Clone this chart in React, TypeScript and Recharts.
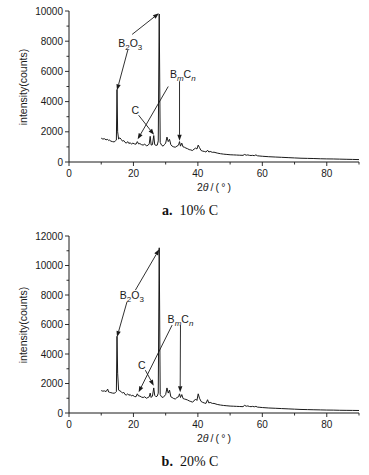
import { LineChart, Line, XAxis, YAxis, ReferenceLine, ReferenceDot } from 'recharts';

// 2θ positions (deg) sampled along the XRD pattern
const twoTheta = [
  10, 10.5, 11, 11.5, 12, 12.3, 12.6, 13, 13.5, 14,
  14.4, 14.7, 14.9, 15.1, 15.4, 15.8, 16.2, 16.6, 17, 17.4,
  17.8, 18.2, 18.6, 19, 19.4, 19.8, 20.3, 20.8, 21.2, 21.6,
  22, 22.5, 23, 23.5, 24, 24.5, 24.9, 25.2, 25.5, 25.9,
  26.3, 26.6, 27, 27.4, 27.7, 28, 28.3, 28.7, 29.2, 29.6,
  30, 30.4, 30.8, 31.2, 31.6, 32, 32.5, 33, 33.5, 34,
  34.3, 34.6, 35, 35.4, 35.8, 36.3, 36.8, 37.3, 37.8, 38.3,
  38.8, 39.3, 39.7, 40.1, 40.5, 41, 41.5, 42, 42.5, 43,
  43.4, 43.8, 44.5, 45, 46, 47, 48, 49, 50, 51,
  52, 53, 54, 54.5, 55, 55.5, 56, 56.5, 57, 57.5,
  58, 58.5, 59, 60, 62, 64, 66, 68, 70, 72,
  74, 76, 78, 80, 82, 84, 86, 88, 90,
];

// a. 10% C
const counts10 = [
  1580, 1520, 1540, 1470, 1500, 1420, 1450, 1380, 1350, 1330,
  1400, 1450, 4800, 2000, 1520, 1600, 1500, 1380, 1420, 1300,
  1250, 1350, 1220, 1280, 1180, 1250, 1200, 1180, 1350, 1200,
  1220, 1150, 1120, 1180, 1080, 1100, 1200, 1700, 1120, 1150,
  1750, 1150, 1100, 1120, 1400, 9800, 1300, 1120, 1050, 1150,
  1250, 1650, 1350, 1500, 1150, 1050, 1000, 980, 1050, 1120,
  1350, 1050, 1250, 1000, 980, 920, 880, 820, 800, 760,
  850, 920, 860, 1120, 950, 760, 720, 700, 660, 780,
  660, 700, 640, 650, 590, 550, 520, 500, 480, 470,
  460, 450, 440, 500, 450, 470, 440, 430, 440, 420,
  470, 410, 400, 380, 350, 330, 310, 290, 270, 250,
  240, 230, 215, 205, 200, 190, 180, 170, 160,
];

// b. 20% C
const counts20 = [
  1520, 1480, 1500, 1450, 1620, 1420, 1400, 1380, 1350, 1340,
  1380, 1450, 5200, 2700, 1550, 1500, 1450, 1350, 1400, 1250,
  1220, 1300, 1200, 1250, 1150, 1200, 1120, 1100, 1300, 1150,
  1150, 1080, 1050, 1100, 1000, 1050, 1100, 1350, 1050, 1150,
  1700, 1200, 1100, 1150, 1350, 11200, 1250, 1100, 1050, 1150,
  1250, 1700, 1350, 1550, 1100, 1050, 980, 950, 1050, 1100,
  1300, 1050, 1250, 980, 950, 920, 880, 820, 780, 740,
  820, 950, 850, 1300, 1000, 780, 720, 680, 650, 900,
  680, 720, 650, 650, 580, 540, 510, 490, 470, 460,
  450, 440, 430, 520, 460, 480, 440, 430, 450, 420,
  450, 400, 390, 370, 340, 320, 300, 280, 260, 240,
  230, 220, 210, 200, 195, 185, 180, 175, 170,
];

const xTicks = [0, 10, 20, 30, 40, 50, 60, 70, 80, 90];
const yTicks10 = [0, 1000, 2000, 3000, 4000, 5000, 6000, 7000, 8000, 9000, 10000];
const yTicks20 = [0, 1000, 2000, 3000, 4000, 5000, 6000, 7000, 8000, 9000, 10000, 11000, 12000];

// annotation arrows: [fromX, fromY, toX, toY] in data units
const arrows10 = [
  [19.6, 8450, 27.9, 9850],
  [18.3, 7450, 14.9, 4750],
  [34.3, 5350, 34.3, 1400],
  [30.8, 5000, 21.3, 1500],
  [21.6, 3100, 26.4, 1800],
];
const arrows20 = [
  [20.6, 8330, 28.0, 11100],
  [18.0, 7540, 14.9, 5150],
  [34.6, 5950, 34.5, 1400],
  [32.0, 5960, 21.6, 1400],
  [23.7, 2900, 26.3, 1850],
];
// label anchors: [x, y, kind]
const labels10: [number, number, string][] = [
  [19.0, 7900, 'B2O3'],
  [35.3, 5830, 'BmCn'],
  [20.6, 3450, 'C'],
];
const labels20: [number, number, string][] = [
  [19.5, 7990, 'B2O3'],
  [34.6, 6340, 'BmCn'],
  [22.6, 3240, 'C'],
];

const SANS = '"Liberation Sans", Arial, sans-serif';
const INK = '#1a1a1a';

function Arrow(p: any) {
  const { x1, y1, x2, y2 } = p;
  if ([x1, y1, x2, y2].some((v) => typeof v !== 'number' || isNaN(v))) return null;
  const a = Math.atan2(y2 - y1, x2 - x1);
  const L = 6;
  const W = 2.2;
  const bx = x2 - L * Math.cos(a);
  const by = y2 - L * Math.sin(a);
  const nx = -Math.sin(a);
  const ny = Math.cos(a);
  const pts = `${x2},${y2} ${bx + W * nx},${by + W * ny} ${bx - W * nx},${by - W * ny}`;
  return (
    <g>
      <line x1={x1} y1={y1} x2={bx} y2={by} stroke={INK} strokeWidth={0.9} />
      <polygon points={pts} fill={INK} />
    </g>
  );
}

function makeLabel(kind: string) {
  return (p: any) => {
    const { cx, cy } = p;
    let body: any = kind;
    if (kind === 'B2O3') {
      body = (
        <>
          B<tspan dy={3} fontSize={8}>2</tspan>
          <tspan dy={-3}>O</tspan>
          <tspan dy={3} fontSize={8}>3</tspan>
        </>
      );
    } else if (kind === 'BmCn') {
      body = (
        <>
          B<tspan dy={3} fontSize={8} fontStyle="italic">m</tspan>
          <tspan dy={-3}>C</tspan>
          <tspan dy={3} fontSize={8} fontStyle="italic">n</tspan>
        </>
      );
    }
    return (
      <text x={cx} y={cy + 4} textAnchor="middle" fontSize={10.5} fontFamily={SANS} fill={INK}>
        {body}
      </text>
    );
  };
}

function XTick(p: any) {
  const { x, y, payload } = p;
  const v = payload.value;
  const major = v % 20 === 0;
  return (
    <g>
      <line x1={x} y1={y} x2={x} y2={y + (major ? 4 : 2.5)} stroke={INK} strokeWidth={0.9} />
      {major && v !== 90 && (
        <text x={x} y={y + 15} textAnchor="middle" fontSize={10} fontFamily={SANS} fill={INK}>
          {v}
        </text>
      )}
    </g>
  );
}

function YTick(p: any) {
  const { x, y, payload } = p;
  const v = payload.value;
  const major = v % 2000 === 0;
  return (
    <g>
      <line x1={x} y1={y} x2={x - (major ? 4 : 2.5)} y2={y} stroke={INK} strokeWidth={0.9} />
      {major && (
        <text x={x - 6} y={y + 3.5} textAnchor="end" fontSize={10} fontFamily={SANS} fill={INK}>
          {v}
        </text>
      )}
    </g>
  );
}

function Panel({
  top,
  height,
  counts,
  yMax,
  yTicks,
  arrows,
  labels,
  letter,
  caption,
}: {
  top: number;
  height: number;
  counts: number[];
  yMax: number;
  yTicks: number[];
  arrows: number[][];
  labels: [number, number, string][];
  letter: string;
  caption: string;
}) {
  const data = twoTheta.map((t, i) => ({ t, v: counts[i] }));
  const plotTop = top + 11;
  const plotBottom = top + height - 38;
  return (
    <>
      <div style={{ position: 'absolute', left: 0, top }}>
        <LineChart width={369} height={height} data={data} margin={{ top: 11, right: 10, bottom: 0, left: 0 }}>
          <XAxis
            dataKey="t"
            type="number"
            domain={[0, 90]}
            ticks={xTicks}
            interval={0}
            height={38}
            tickSize={0}
            tickMargin={0}
            tickLine={false}
            tick={<XTick />}
            axisLine={{ stroke: INK, strokeWidth: 1 }}
          />
          <YAxis
            type="number"
            domain={[0, yMax]}
            ticks={yTicks}
            interval={0}
            width={69}
            tickSize={0}
            tickMargin={0}
            tickLine={false}
            tick={<YTick />}
            axisLine={{ stroke: INK, strokeWidth: 1 }}
          />
          <Line
            type="linear"
            dataKey="v"
            stroke={INK}
            strokeWidth={1}
            dot={false}
            isAnimationActive={false}
          />
          {arrows.map((a, i) => (
            <ReferenceLine
              key={'a' + i}
              segment={[
                { x: a[0], y: a[1] },
                { x: a[2], y: a[3] },
              ]}
              ifOverflow="visible"
              shape={Arrow}
            />
          ))}
          {labels.map((l, i) => (
            <ReferenceDot key={'l' + i} x={l[0]} y={l[1]} r={0} ifOverflow="visible" shape={makeLabel(l[2])} />
          ))}
        </LineChart>
      </div>
      <div
        style={{
          position: 'absolute',
          left: 22.5 - 75,
          top: (plotTop + plotBottom) / 2 - 7,
          width: 150,
          height: 14,
          lineHeight: '14px',
          textAlign: 'center',
          transform: 'rotate(-90deg)',
          fontFamily: SANS,
          fontSize: 10.5,
          color: INK,
        }}
      >
        intensity(counts)
      </div>
      <div
        style={{
          position: 'absolute',
          left: 214 - 50,
          top: plotBottom + 18,
          width: 100,
          textAlign: 'center',
          fontFamily: SANS,
          fontSize: 10.5,
          lineHeight: '14px',
          color: INK,
        }}
      >
        2<i>θ</i>&thinsp;/&thinsp;(&thinsp;°&thinsp;)
      </div>
      <div
        style={{
          position: 'absolute',
          left: 190 - 60,
          top: plotBottom + 40,
          width: 120,
          textAlign: 'center',
          fontFamily: '"Liberation Serif", "DejaVu Serif", serif',
          fontSize: 14,
          lineHeight: '18px',
          color: '#111',
        }}
      >
        <b>{letter}</b>&nbsp;&nbsp;{caption}
      </div>
    </>
  );
}

export default function App() {
  return (
    <div style={{ position: 'absolute', left: 0, top: 0, width: 369, height: 475, background: '#fff' }}>
      <Panel
        top={0}
        height={200}
        counts={counts10}
        yMax={10000}
        yTicks={yTicks10}
        arrows={arrows10}
        labels={labels10}
        letter="a."
        caption="10% C"
      />
      <Panel
        top={225}
        height={226}
        counts={counts20}
        yMax={12000}
        yTicks={yTicks20}
        arrows={arrows20}
        labels={labels20}
        letter="b."
        caption="20% C"
      />
    </div>
  );
}
